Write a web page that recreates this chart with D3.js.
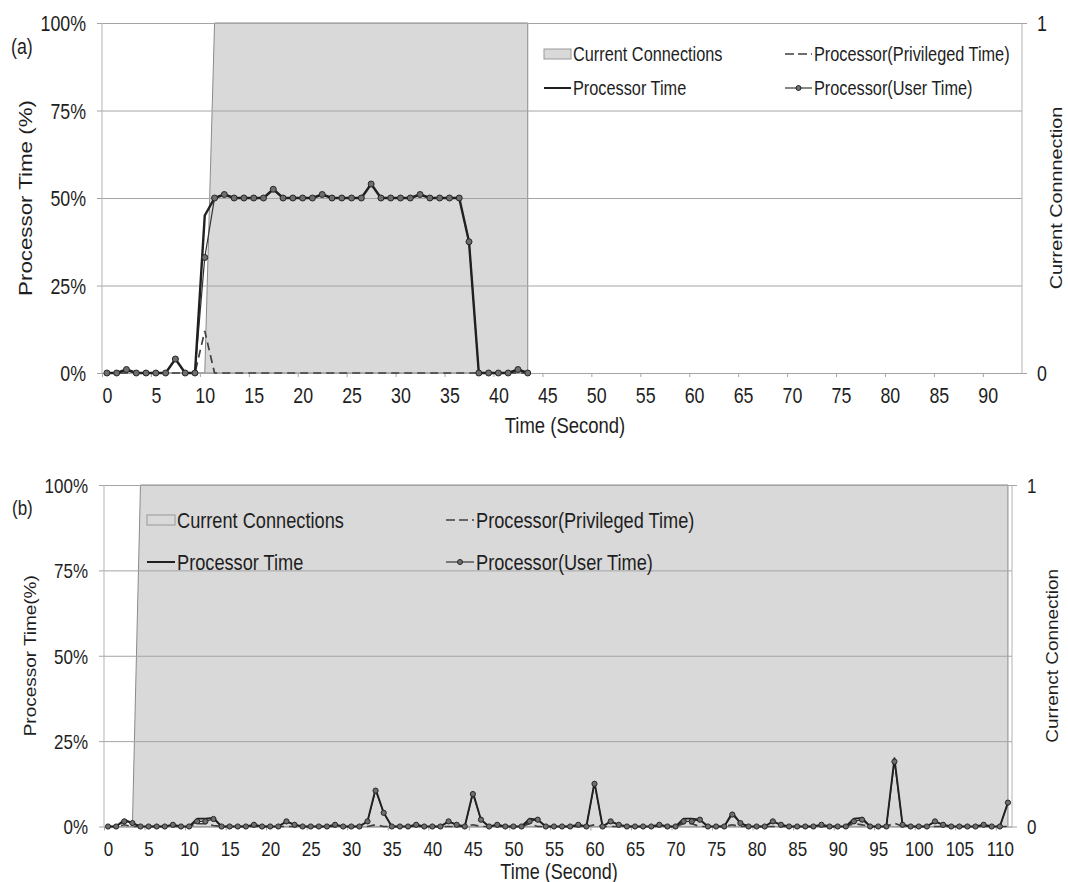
<!DOCTYPE html>
<html>
  <head>
    <meta charset="utf-8">
    <title>Processor Time and Current Connections</title>
    <style>
      body { margin: 0; background: #fff; }
      text { font-family: "Liberation Sans", Arial, sans-serif; fill: #1e1e1e; }
      .grid line { stroke: #a4a4a4; stroke-width: 1; }
      .border { stroke: #b3b3b3; stroke-width: 1; }
      .ticks path, .ticks line { stroke: #a4a4a4; }
      .conn { fill: #d9d9d9; stroke: #8a8a8a; stroke-width: 1; }
      .ptime { fill: none; stroke: #202020; stroke-linejoin: round; }
      .utime { fill: none; stroke: #353535; stroke-width: 1.2; }
      .priv { fill: none; stroke: #3f3f3f; stroke-width: 1.7; stroke-dasharray: 8,5; }
      .dot { fill: #6e6e6e; stroke: #262626; stroke-width: 1; }
    </style>
    <script src="https://d3js.org/d3.v7.min.js"></script>
  </head>
  <body>
  <script>
    // ---------- data: panel (a) ----------
    var axisTimeA = d3.range(0, 94);          // categories on the time axis
    var timeA = d3.range(0, 44);              // seconds that have samples
    var xTicksA = [0,5,10,15,20,25,30,35,40,45,50,55,60,65,70,75,80,85,90];
    var connA = [0,0,0,0,0,0,0,0,0,0, 0,1,1,1,1,1,1,1,1,1,
                 1,1,1,1,1,1,1,1,1,1, 1,1,1,1,1,1,1,1,1,1, 1,1,1,1];
    var procA = [0,0,1,0,0,0,0,4,0,0, 45,50,51,50,50,50,50,52.5,50,50,
                 50,50,51,50,50,50,50,54,50,50, 50,50,51,50,50,50,50,37.5,0,0, 0,0,1,0];
    var userA = [0,0,1,0,0,0,0,4,0,0, 33,50,51,50,50,50,50,52.5,50,50,
                 50,50,51,50,50,50,50,54,50,50, 50,50,51,50,50,50,50,37.5,0,0, 0,0,1,0];
    var privA = [0,0,0,0,0,0,0,0,0,0, 12,0,0,0,0,0,0,0,0,0,
                 0,0,0,0,0,0,0,0,0,0, 0,0,0,0,0,0,0,0,0,0, 0,0,0,0];

    // ---------- data: panel (b) ----------
    var axisTimeB = d3.range(0, 112);
    var timeB = d3.range(0, 112);
    var xTicksB = [0,5,10,15,20,25,30,35,40,45,50,55,60,65,70,75,80,85,90,95,100,105,110];
    var connB = [0,0,0,0,1,1,1,1,1,1, 1,1,1,1,1,1,1,1,1,1, 1,1,1,1,1,1,1,1,1,1,
                 1,1,1,1,1,1,1,1,1,1, 1,1,1,1,1,1,1,1,1,1, 1,1,1,1,1,1,1,1,1,1,
                 1,1,1,1,1,1,1,1,1,1, 1,1,1,1,1,1,1,1,1,1, 1,1,1,1,1,1,1,1,1,1,
                 1,1,1,1,1,1,1,1,1,1, 1,1,1,1,1,1,1,1,1,1, 1,1];
    var procB = [0,0,2,1,0,0,0,0,0.5,0,     0,2.3,2.3,2.5,0,0,0,0,0.5,0,
                 0,0,1.5,0.5,0,0,0,0,0.5,0, 0,0,1.5,11,4,0,0,0,0.5,0,
                 0,0,1.5,0.5,0,10,2,0,0.5,0, 0,0,2.3,2,0,0,0,0,0.5,0,
                 13,0,1.5,0.5,0,0,0,0,0.5,0, 0,2.3,2.3,2,0,0,0,4,1,0,
                 0,0,1.5,0.5,0,0,0,0,0.5,0, 0,0,2.3,2.5,0,0,0,20,0.5,0,
                 0,0,1.5,0.5,0,0,0,0,0.5,0, 0,7];
    var userB = [0,0,1.5,1,0,0,0,0,0.5,0,   0,1.5,1.5,2.2,0,0,0,0,0.5,0,
                 0,0,1.5,0.5,0,0,0,0,0.5,0, 0,0,1.5,10.5,4,0,0,0,0.5,0,
                 0,0,1.5,0.5,0,9.5,2,0,0.5,0, 0,0,1.5,2,0,0,0,0,0.5,0,
                 12.5,0,1.5,0.5,0,0,0,0,0.5,0, 0,1.5,1.5,2,0,0,0,3.5,1,0,
                 0,0,1.5,0.5,0,0,0,0,0.5,0, 0,0,1.5,2,0,0,0,19,0.5,0,
                 0,0,1.5,0.5,0,0,0,0,0.5,0, 0,7];
    var privB = [0,0,0.5,0,0,0,0,0,0,0,     0,0.8,0.8,0.3,0,0,0,0,0,0,
                 0,0,0,0,0,0,0,0,0,0,       0,0,0,0.5,0,0,0,0,0,0,
                 0,0,0,0,0,0.5,0,0,0,0,     0,0,0.8,0,0,0,0,0,0,0,
                 0.5,0,0,0,0,0,0,0,0,0,     0,0.8,0.8,0,0,0,0,0.5,0,0,
                 0,0,0,0,0,0,0,0,0,0,       0,0,0.8,0.5,0,0,0,1,0,0,
                 0,0,0,0,0,0,0,0,0,0,       0,0];

    var yTicks = [0, 25, 50, 75, 100];
    var y2Ticks = [0, 1];
    var legendLabels = ['Current Connections', 'Processor(Privileged Time)', 'Processor Time', 'Processor(User Time)'];

    var svg = d3.select('body').append('svg').attr('width', 1068).attr('height', 882);

    // text helper: the source picture is a little taller than wide, so text is stretched 1.2x
    function label(g, x, y, str, size, anchor, rotate) {
      return g.append('text')
        .attr('transform', 'translate(' + x + ',' + y + ')' + (rotate ? ' rotate(-90) scale(1.2,1)' : ' scale(1,1.2)'))
        .attr('text-anchor', anchor || 'start')
        .attr('dy', '0.36em')
        .style('font-size', size + 'px')
        .text(str);
    }

    function drawPanel(p) {
      var g = svg.append('g');
      var x = d3.scaleLinear().domain([-0.5, p.axisTime.length - 0.5]).range([p.left, p.right]);
      var y = d3.scaleLinear().domain([0, 100]).range([p.bottom, p.top]);
      var y2 = d3.scaleLinear().domain([0, 1]).range([p.bottom, p.top]);
      var px = function(d, i) { return x(p.time[i]); };

      // current connections on the right axis
      g.append('path').datum(p.conn).attr('class', 'conn')
        .attr('d', d3.area().x(px).y0(y2(0)).y1(function(d) { return y2(d); }));

      // gridlines + left labels
      var ga = g.append('g').attr('class', 'grid')
        .attr('transform', 'translate(' + (p.left - 5) + ',0)')
        .call(d3.axisLeft(y).tickValues(yTicks).tickSize(-(p.right - p.left + 5))
          .tickPadding(p.yPad).tickFormat(function(d) { return d + '%'; }));
      ga.select('.domain').remove();
      ga.selectAll('text').attr('dy', '0.36em').attr('transform', 'scale(1,1.2)')
        .style('font-size', p.font + 'px').attr('fill', '#1e1e1e');

      // plot side borders
      g.append('line').attr('class', 'border').attr('x1', p.left).attr('x2', p.left).attr('y1', p.top).attr('y2', p.bottom);
      g.append('line').attr('class', 'border').attr('x1', p.right).attr('x2', p.right).attr('y1', p.top).attr('y2', p.bottom);

      // x axis: tick marks between categories, labels on them
      g.append('g').attr('class', 'ticks').attr('transform', 'translate(0,' + p.bottom + ')')
        .call(d3.axisBottom(x).tickValues(p.xTicks.map(function(t) { return t - 0.5; })).tickSize(4).tickSizeOuter(0).tickFormat(''));
      var gx = g.append('g').attr('transform', 'translate(0,' + p.bottom + ')')
        .call(d3.axisBottom(x).tickValues(p.xTicks).tickSize(0).tickPadding(0));
      gx.select('.domain').remove();
      gx.selectAll('text').attr('y', 0).attr('dy', '0.36em')
        .attr('transform', 'translate(0,' + p.xLabOff + ') scale(1,1.2)')
        .style('font-size', p.font + 'px').attr('fill', '#1e1e1e');

      // right axis 0..1
      var gr = g.append('g').attr('class', 'ticks').attr('transform', 'translate(' + p.right + ',0)')
        .call(d3.axisRight(y2).tickValues(y2Ticks).tickSize(5).tickPadding(p.rPad).tickFormat(d3.format('d')));
      gr.select('.domain').remove();
      gr.selectAll('text').attr('dy', '0.36em').attr('transform', 'scale(1,1.2)')
        .style('font-size', p.font + 'px').attr('fill', '#1e1e1e');

      // series
      var line = function(vals) { return d3.line().x(px).y(function(d) { return y(d); })(vals); };
      g.append('path').attr('class', 'priv').attr('d', line(p.priv));
      g.append('path').attr('class', 'utime').attr('d', line(p.user));
      g.append('path').attr('class', 'ptime').style('stroke-width', p.pw).attr('d', line(p.proc));
      g.selectAll('.dot').data(p.user).enter().append('circle').attr('class', 'dot')
        .attr('cx', px).attr('cy', function(d) { return y(d); }).attr('r', p.r);

      // titles
      label(g, p.tag[0], p.tag[1], p.tagText, p.font);
      label(g, p.ltitleX, (p.top + p.bottom) / 2, p.ltitle, p.lfont, 'middle', true);
      label(g, p.rtitleX, (p.top + p.bottom) / 2, p.rtitle, p.rfont, 'middle', true);
      label(g, p.xtitle[0], p.xtitle[1], 'Time (Second)', p.xfont, 'middle');

      // legend
      var L = p.legend;
      var cols = [L.c1, L.c2, L.c1, L.c2], rows = [L.r1, L.r1, L.r2, L.r2];
      legendLabels.forEach(function(t, i) {
        var x0 = cols[i], yy = rows[i];
        if (i === 0) {
          g.append('rect').attr('x', x0).attr('y', yy - 5).attr('width', L.sw).attr('height', 10)
            .attr('fill', '#d9d9d9').attr('stroke', '#9a9a9a');
        } else {
          g.append('line').attr('x1', x0).attr('x2', x0 + L.sw).attr('y1', yy).attr('y2', yy)
            .attr('class', i === 1 ? 'priv' : i === 2 ? 'ptime' : 'utime')
            .style('stroke-width', i === 2 ? 2 : null).style('stroke-dasharray', i === 1 ? '9,4' : null);
          if (i === 3) g.append('circle').attr('class', 'dot').attr('cx', x0 + L.sw / 2).attr('cy', yy).attr('r', 2.5);
        }
        label(g, x0 + L.sw + 2, yy, t, L.font);
      });
    }

    drawPanel({
      axisTime: axisTimeA, time: timeA, xTicks: xTicksA,
      conn: connA, proc: procA, user: userA, priv: privA,
      left: 102, right: 1022, top: 23, bottom: 373,
      font: 17.8, yPad: 11, rPad: 10, xLabOff: 22, pw: 2.4, r: 3,
      tag: [11, 46], tagText: '(a)',
      ltitle: 'Processor Time (%)', ltitleX: 25, lfont: 18.6,
      rtitle: 'Current Connnection', rtitleX: 1056, rfont: 16.5,
      xtitle: [565, 425], xfont: 18.5,
      legend: { c1: 544, c2: 785, r1: 54, r2: 88, sw: 27, font: 16.3 }
    });

    drawPanel({
      axisTime: axisTimeB, time: timeB, xTicks: xTicksB,
      conn: connB, proc: procB, user: userB, priv: privB,
      left: 104, right: 1012, top: 485, bottom: 826.5,
      font: 17, yPad: 11, rPad: 10, xLabOff: 22, pw: 1.9, r: 2.6,
      tag: [12, 508], tagText: '(b)',
      ltitle: 'Processor Time(%)', ltitleX: 30, lfont: 15.8,
      rtitle: 'Currenct Connection', rtitleX: 1052, rfont: 15.8,
      xtitle: [559, 871], xfont: 18,
      legend: { c1: 147, c2: 446, r1: 520, r2: 562, sw: 28, font: 18.2 }
    });
  </script>
  </body>
</html>
